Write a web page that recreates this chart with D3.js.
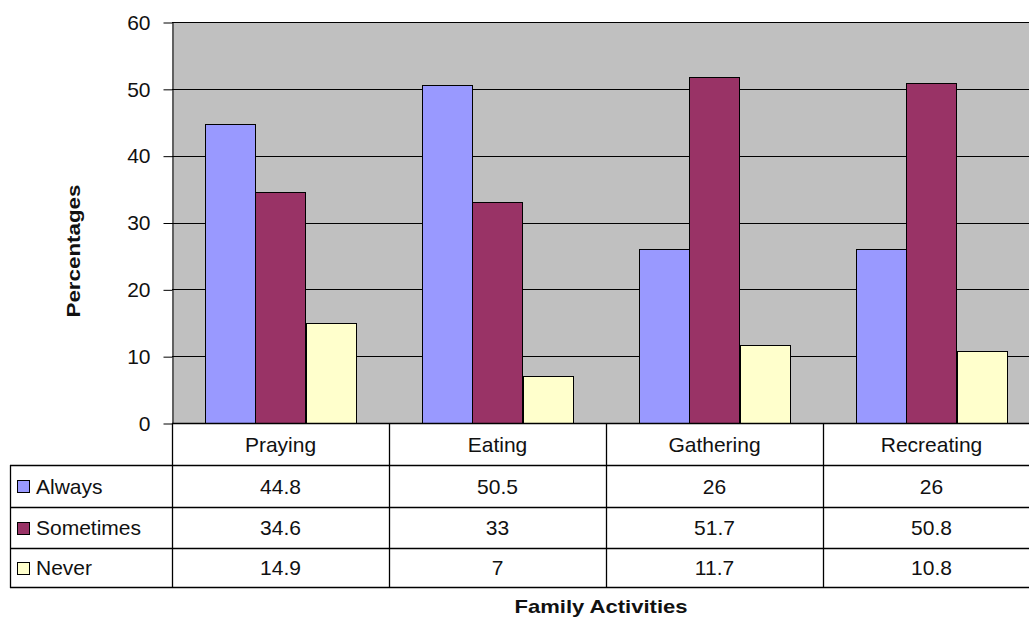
<!DOCTYPE html>
<html>
<head>
<meta charset="utf-8">
<script src="https://cdn.jsdelivr.net/npm/d3@7"></script>
<style>
  html, body { margin: 0; padding: 0; background: #fff; }
  svg { display: block; font-family: "Liberation Sans", Arial, sans-serif; }
</style>
</head>
<body>
<svg id="chart" width="1029" height="619"></svg>
<script>
const categories = ["Praying", "Eating", "Gathering", "Recreating"];
const seriesNames = ["Always", "Sometimes", "Never"];
const always = [44.8, 50.5, 26, 26];
const sometimes = [34.6, 33, 51.7, 50.8];
const never = [14.9, 7, 11.7, 10.8];
const yTicks = [0, 10, 20, 30, 40, 50, 60];
const seriesColors = ["#9999FF", "#993366", "#FFFFCC"];
const yTitle = "Percentages";
const xTitle = "Family Activities";

const seriesValues = [always, sometimes, never];
const series = seriesNames.map((name, i) => ({ name, values: seriesValues[i], color: seriesColors[i] }));

const svg = d3.select("#chart");
const W = 1029, H = 619;
const plot = { left: 172, right: 1040, top: 22, bottom: 423 };
const tableLeft = 10;
const rowLines = [423, 465, 507, 548, 587];

svg.append("rect").attr("width", W).attr("height", H).attr("fill", "#fff");

const x0 = d3.scaleBand().domain(categories).range([plot.left, plot.right]).padding(0);
const x1 = d3.scaleBand().domain(seriesNames).range([0, x0.bandwidth()]).paddingInner(0).paddingOuter(0.65);
const y = d3.scaleLinear().domain([0, 60]).range([plot.bottom, plot.top]);

// plot background
svg.append("rect")
  .attr("x", plot.left).attr("y", plot.top)
  .attr("width", plot.right - plot.left).attr("height", plot.bottom - plot.top)
  .attr("fill", "#C0C0C0");

// gridlines
svg.append("g").selectAll("line").data(yTicks.filter(t => t > 0)).join("line")
  .attr("x1", plot.left).attr("x2", plot.right)
  .attr("y1", d => Math.round(y(d)) + 0.5).attr("y2", d => Math.round(y(d)) + 0.5)
  .attr("stroke", "#000").attr("stroke-width", 1);

// bars
const groups = svg.append("g").selectAll("g").data(series).join("g");
groups.selectAll("rect").data(s => s.values.map((v, i) => ({ cat: categories[i], v, s }))).join("rect")
  .attr("x", d => Math.round(x0(d.cat) + x1(d.s.name)) + 0.5)
  .attr("y", d => Math.round(y(d.v)) + 0.5)
  .attr("width", d => Math.round(x1.bandwidth()))
  .attr("height", d => Math.round(y(0)) - Math.round(y(d.v)))
  .attr("fill", d => d.s.color)
  .attr("stroke", "#000").attr("stroke-width", 1);

// y axis
const yAxis = d3.axisLeft(y).tickValues(yTicks).tickSize(9).tickSizeOuter(0).tickPadding(13);
const ya = svg.append("g").attr("transform", `translate(${plot.left + 0.5},0.5)`).call(yAxis);
ya.select(".domain").attr("stroke", "#000");
ya.selectAll(".tick line").attr("stroke", "#000");
ya.selectAll(".tick text").attr("font-size", 21).attr("fill", "#111")
  .attr("font-family", "'Liberation Sans', Arial, sans-serif");

// data table
const tg = svg.append("g");
rowLines.forEach((ly, i) => {
  tg.append("line")
    .attr("x1", i === 0 ? plot.left : tableLeft).attr("x2", W)
    .attr("y1", ly + 0.5).attr("y2", ly + 0.5)
    .attr("stroke", "#000").attr("stroke-width", 1.3);
});
tg.append("line").attr("x1", tableLeft + 0.5).attr("x2", tableLeft + 0.5)
  .attr("y1", rowLines[1]).attr("y2", rowLines[4] + 1).attr("stroke", "#000").attr("stroke-width", 1.3);
categories.forEach(c => {
  tg.append("line").attr("x1", Math.round(x0(c)) + 0.5).attr("x2", Math.round(x0(c)) + 0.5)
    .attr("y1", rowLines[0]).attr("y2", rowLines[4] + 1).attr("stroke", "#000").attr("stroke-width", 1.3);
});
tg.selectAll("text.cat").data(categories).join("text").attr("class", "cat")
  .attr("x", d => x0(d) + x0.bandwidth() / 2)
  .attr("y", (rowLines[0] + rowLines[1]) / 2)
  .attr("dy", "0.36em").attr("text-anchor", "middle")
  .attr("font-size", 21).attr("fill", "#111").text(d => d);
series.forEach((s, r) => {
  const cy = (rowLines[r + 1] + rowLines[r + 2]) / 2;
  tg.append("rect").attr("x", 17.5).attr("y", Math.round(cy - 6) + 0.5)
    .attr("width", 12).attr("height", 12)
    .attr("fill", s.color).attr("stroke", "#000").attr("stroke-width", 1);
  tg.append("text").attr("x", 36).attr("y", cy).attr("dy", "0.36em")
    .attr("font-size", 21).attr("fill", "#111").text(s.name);
  tg.selectAll(null).data(s.values).join("text")
    .attr("x", (d, i) => x0(categories[i]) + x0.bandwidth() / 2)
    .attr("y", cy).attr("dy", "0.36em").attr("text-anchor", "middle")
    .attr("font-size", 21).attr("fill", "#111").text(d => String(d));
});

// axis titles
svg.append("text")
  .attr("transform", `translate(80,251) rotate(-90)`)
  .attr("text-anchor", "middle")
  .attr("font-size", 19).attr("font-weight", "bold").attr("fill", "#111")
  .attr("textLength", 133).attr("lengthAdjust", "spacingAndGlyphs")
  .text(yTitle);
svg.append("text")
  .attr("x", 601).attr("y", 613)
  .attr("text-anchor", "middle")
  .attr("font-size", 19).attr("font-weight", "bold").attr("fill", "#111")
  .attr("textLength", 173).attr("lengthAdjust", "spacingAndGlyphs")
  .text(xTitle);
</script>
</body>
</html>
